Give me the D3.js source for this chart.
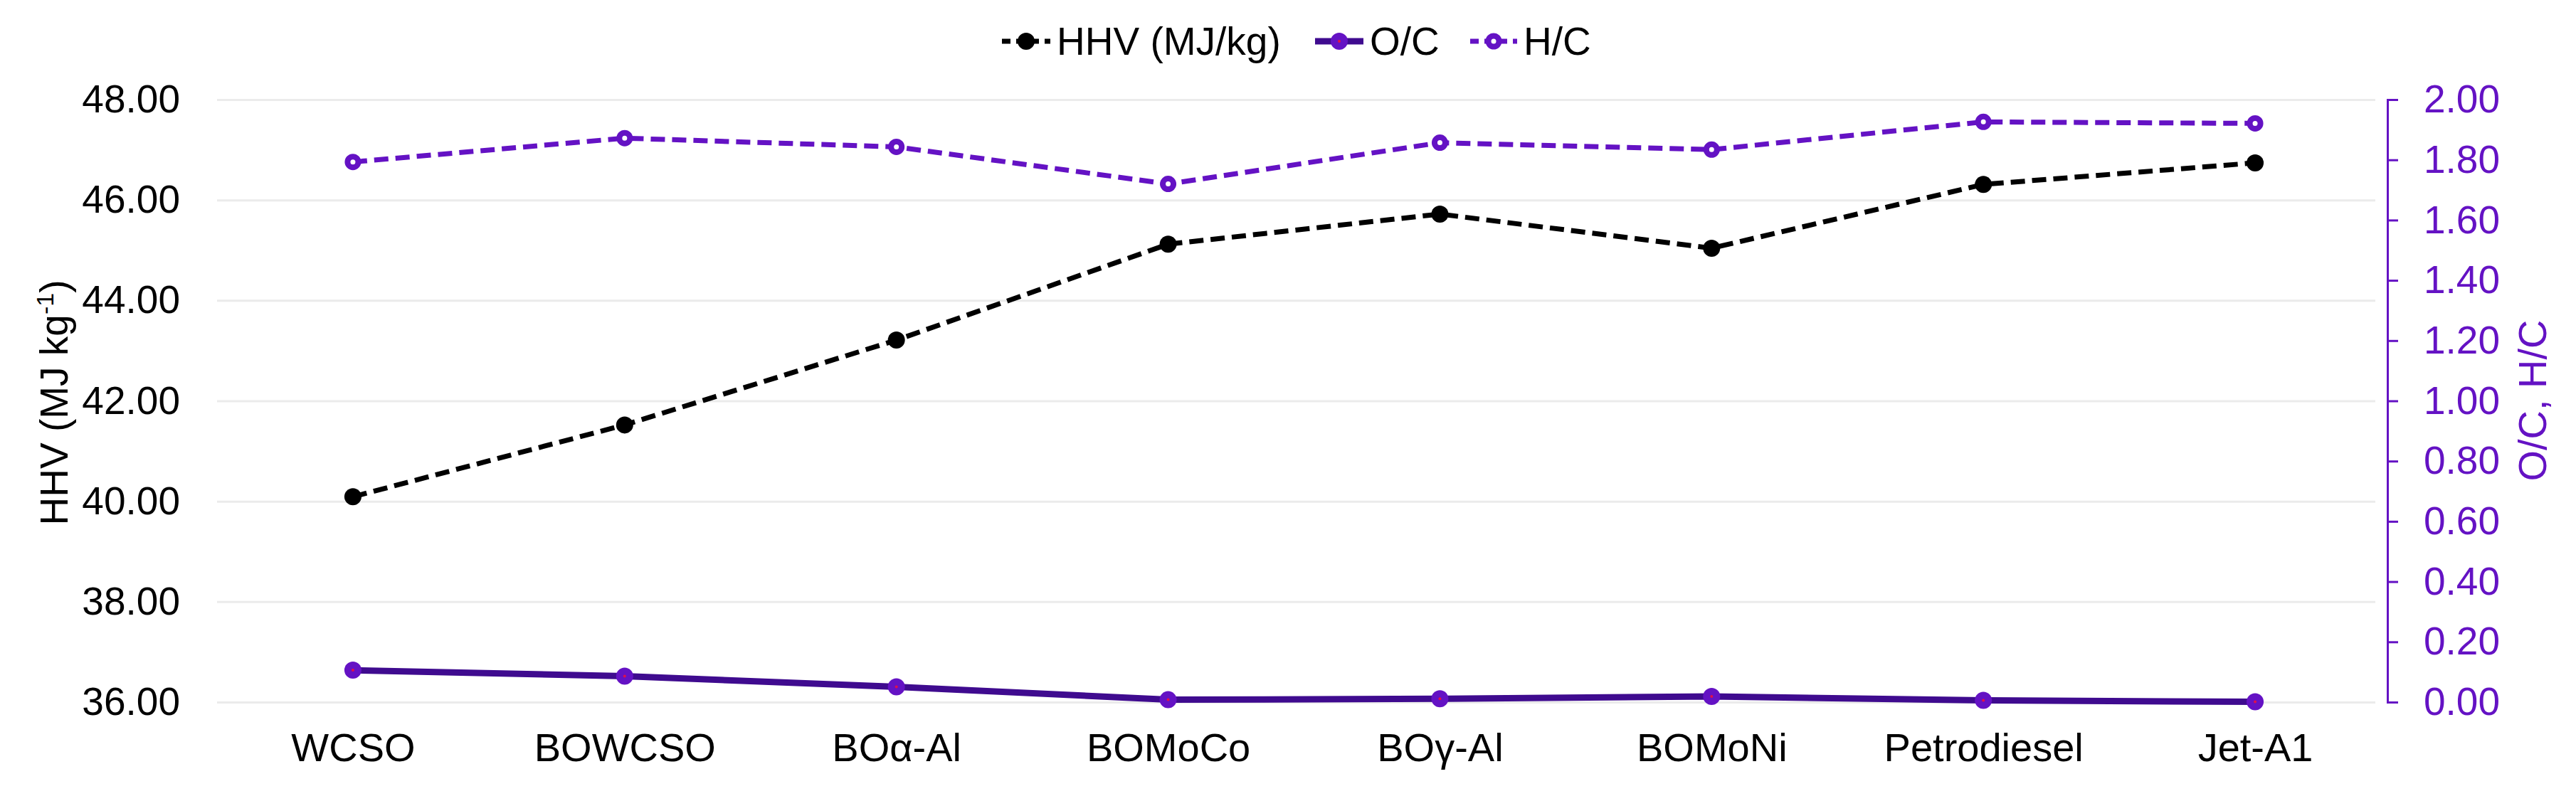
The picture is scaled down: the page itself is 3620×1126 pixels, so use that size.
<!DOCTYPE html>
<html>
<head>
<meta charset="utf-8">
<script src="https://cdn.jsdelivr.net/npm/d3@7"></script>
<style>
    body { margin: 0; background: #ffffff; }
    text { font-family: 'Liberation Sans', Arial, sans-serif; }
    .grid line { stroke: #ebebeb; stroke-width: 3; }
    .grid .domain { display: none; }
</style>
</head>
<body>
<svg width="3620" height="1126"></svg>
<script>
const categories = ['WCSO', 'BOWCSO', 'BOα-Al', 'BOMoCo', 'BOγ-Al', 'BOMoNi', 'Petrodiesel', 'Jet-A1'];
const hhv = [40.09, 41.52, 43.21, 45.12, 45.72, 45.04, 46.31, 46.74];
const oc = [0.106, 0.086, 0.051, 0.008, 0.011, 0.019, 0.006, 0.001];
const hc = [1.793, 1.872, 1.843, 1.720, 1.857, 1.834, 1.926, 1.921];
const leftTicks = [36, 38, 40, 42, 44, 46, 48];
const rightTicks = [0, 0.2, 0.4, 0.6, 0.8, 1.0, 1.2, 1.4, 1.6, 1.8, 2.0];

const purple = '#6412c4';
const svg = d3.select('svg');

const plotLeft = 305;
const plotRight = 3355;
const plotTop = 140;
const plotBottom = 987;

const xScale = d3.scalePoint()
    .domain(categories)
    .range([plotLeft, 3360])
    .padding(0.5);

const yLeft = d3.scaleLinear()
    .domain([36, 48])
    .range([plotBottom, plotTop]);

const yRight = d3.scaleLinear()
    .domain([0, 2])
    .range([plotBottom, plotTop]);

// horizontal grid lines
svg.append('g')
    .attr('class', 'grid')
    .attr('transform', `translate(${plotLeft}, 0)`)
    .call(d3.axisLeft(yLeft)
        .tickValues(leftTicks)
        .tickSize(-(3338 - plotLeft))
        .tickFormat('')
    );

// left axis labels
const leftAxis = svg.append('g')
    .attr('transform', `translate(${plotLeft}, 0)`)
    .call(d3.axisLeft(yLeft)
        .tickValues(leftTicks)
        .tickSize(0)
        .tickPadding(52)
        .tickFormat(d3.format('.2f')));
leftAxis.select('.domain').remove();
leftAxis.selectAll('text')
    .attr('font-size', 55)
    .attr('font-family', 'Liberation Sans, Arial, sans-serif')
    .attr('fill', '#000');

// right axis
const rightAxis = svg.append('g')
    .attr('transform', `translate(${plotRight}, 0)`)
    .call(d3.axisRight(yRight)
        .tickValues(rightTicks)
        .tickSize(15)
        .tickSizeOuter(15)
        .tickPadding(36)
        .tickFormat(d3.format('.2f')));
rightAxis.select('.domain')
    .attr('stroke', purple)
    .attr('stroke-width', 3);
rightAxis.selectAll('.tick line')
    .attr('stroke', purple)
    .attr('stroke-width', 3);
rightAxis.selectAll('text')
    .attr('font-size', 55)
    .attr('font-family', 'Liberation Sans, Arial, sans-serif')
    .attr('fill', purple);

// x axis labels
const xAxis = svg.append('g')
    .attr('transform', `translate(0, ${plotBottom})`)
    .call(d3.axisBottom(xScale)
        .tickSize(0)
        .tickPadding(43));
xAxis.select('.domain').remove();
xAxis.selectAll('text')
    .attr('font-size', 56)
    .attr('font-family', 'Liberation Sans, Arial, sans-serif')
    .attr('fill', '#000');

// series
const series = [
    { name: 'HHV (MJ/kg)', values: hhv, scale: yLeft, color: '#000000', dash: '20,10', width: 7 },
    { name: 'O/C', values: oc, scale: yRight, color: '#3f0b8f', dash: null, width: 9 },
    { name: 'H/C', values: hc, scale: yRight, color: purple, dash: '20,10', width: 7 }
];

series.forEach((s) => {
    const line = d3.line()
        .x((d, i) => xScale(categories[i]))
        .y((d) => s.scale(d));

    svg.append('path')
        .datum(s.values)
        .attr('fill', 'none')
        .attr('stroke', s.color)
        .attr('stroke-width', s.width)
        .attr('stroke-dasharray', s.dash)
        .attr('d', line);
});

function drawMarker(g, name, cx, cy) {
    if (name === 'HHV (MJ/kg)') {
        g.append('circle')
            .attr('cx', cx).attr('cy', cy).attr('r', 12)
            .attr('fill', '#000');
    } else if (name === 'O/C') {
        g.append('circle')
            .attr('cx', cx).attr('cy', cy).attr('r', 12)
            .attr('fill', purple);
        g.append('circle')
            .attr('cx', cx).attr('cy', cy).attr('r', 2)
            .attr('fill', '#e0104a');
    } else {
        g.append('circle')
            .attr('cx', cx).attr('cy', cy).attr('r', 7.5)
            .attr('fill', '#ffffff')
            .attr('stroke', purple)
            .attr('stroke-width', 8);
    }
}

series.forEach((s) => {
    const g = svg.append('g');
    s.values.forEach((v, i) => drawMarker(g, s.name, xScale(categories[i]), s.scale(v)));
});

// legend
const legendItems = [
    { x: 1408, w: 68 },
    { x: 1848, w: 68 },
    { x: 2066, w: 66 }
];
series.forEach((s, i) => {
    const it = legendItems[i];
    const g = svg.append('g');
    g.append('line')
        .attr('x1', it.x).attr('x2', it.x + it.w)
        .attr('y1', 58).attr('y2', 58)
        .attr('stroke', s.color)
        .attr('stroke-width', s.width)
        .attr('stroke-dasharray', s.dash ? '12,8' : null);
    drawMarker(g, s.name, it.x + it.w / 2, 58);
    g.append('text')
        .attr('x', it.x + it.w + 9)
        .attr('y', 77)
        .attr('font-size', 55)
        .attr('fill', '#000')
        .text(s.name);
});

// axis titles
const leftTitle = svg.append('text')
    .attr('transform', 'translate(95, 566) rotate(-90)')
    .attr('text-anchor', 'middle')
    .attr('font-size', 55)
    .attr('fill', '#000');
leftTitle.append('tspan').text('HHV (MJ kg');
leftTitle.append('tspan')
    .attr('dy', -20)
    .attr('font-size', 34)
    .text('-1');
leftTitle.append('tspan')
    .attr('dy', 20)
    .text(')');

svg.append('text')
    .attr('transform', 'translate(3578, 563) rotate(-90)')
    .attr('text-anchor', 'middle')
    .attr('font-size', 56)
    .attr('fill', purple)
    .text('O/C, H/C');
</script>
</body>
</html>
